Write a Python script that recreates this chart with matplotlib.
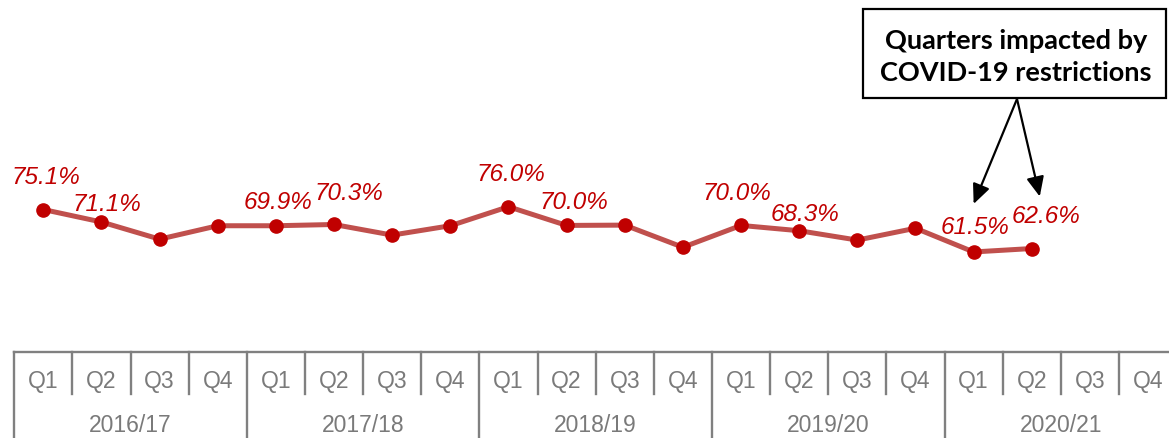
import matplotlib
matplotlib.use("Agg")
import matplotlib.pyplot as plt
from matplotlib.patches import Rectangle
from matplotlib.transforms import offset_copy

# ---- data -------------------------------------------------------------
years = ["2016/17", "2017/18", "2018/19", "2019/20", "2020/21"]
quarters = ["Q1", "Q2", "Q3", "Q4"]
rates = [75.1, 71.1, 65.6, 69.9, 69.9, 70.3, 66.9, 69.9, 76.0,
         70.0, 70.1, 63.0, 70.0, 68.3, 65.3, 69.1, 61.5, 62.6]
labelled = [0, 1, 4, 5, 8, 9, 12, 13, 16, 17]
covid_quarters = [16, 17]
note_text = "Quarters impacted by\nCOVID-19 restrictions"

# ---- layout / style ----------------------------------------------------
W, H, DPI = 1169, 438, 100
TABLE_TOP = 351.7          # pixel row of the category table's top rule
LINE_C = "#c0504d"
MARK_C = "#c00000"
GRID_C = "#808080"
TEXT_C = "#7a7a7a"

# pixel offsets of each value label from its point
label_offsets = {0: (3, 32), 1: (5, 17), 4: (2, 23), 5: (15, 31),
                 8: (2, 32), 9: (7, 23), 12: (-4, 32), 13: (6, 16),
                 16: (1, 24), 17: (14, 32)}
arrow_rise = {16: 48, 17: 52}
arrow_shift = {16: 0, 17: 8}

plt.rcParams["font.family"] = ["Liberation Sans", "DejaVu Sans"]

fig = plt.figure(figsize=(W / DPI, H / DPI), dpi=DPI)
fig.patch.set_facecolor("white")

top_frac = (H - TABLE_TOP) / H
ax = fig.add_axes([0, top_frac, 1, 1 - top_frac])
tax = fig.add_axes([0, 0, 1, top_frac])

xlim = (-0.745, 19.36)
ax.set_xlim(*xlim)
ax.set_ylim(29.53, 142.25)
tax.set_xlim(*xlim)
tax.set_ylim(0, 1)
ax.axis("off")
tax.axis("off")

# ---- series ------------------------------------------------------------
xs = list(range(len(rates)))
ax.plot(xs, rates, color=LINE_C, lw=3.6, solid_capstyle="round",
        solid_joinstyle="round", zorder=2)
ax.plot(xs, rates, ls="none", marker="o", ms=9.5, color=MARK_C,
        mec=MARK_C, zorder=3)

for i in labelled:
    dx, dy = label_offsets[i]
    ax.annotate(f"{rates[i]:.1f}%", xy=(i, rates[i]), xytext=(dx, dy),
                textcoords="offset pixels", ha="center", va="center",
                fontsize=17.5, style="italic", color=MARK_C)

# ---- note box with arrows ------------------------------------------------
bx0, bx1, by0, by1 = 863, 1166, 9.3, 98.3
fig.add_artist(Rectangle((bx0 / W, 1 - by1 / H), (bx1 - bx0) / W,
                         (by1 - by0) / H, transform=fig.transFigure,
                         fill=True, facecolor="white", edgecolor="black",
                         lw=1.6, zorder=5))
fig.text((bx0 + bx1) / 2 / W + 1.5 / W, 1 - 57 / H, note_text, ha="center",
         va="center", fontsize=19.5, fontweight="bold", family="Lato",
         linespacing=1.4, color="black", zorder=6)

for i in covid_quarters:
    tip = offset_copy(ax.transData, fig=fig, x=arrow_shift[i],
                      y=arrow_rise[i], units="dots")
    ax.annotate("", xy=(i, rates[i]), xycoords=tip,
                xytext=(1017, H - 99), textcoords="figure pixels",
                arrowprops=dict(arrowstyle="-|>,head_length=0.85,head_width=0.38",
                                mutation_scale=14, color="black", lw=1.6,
                                shrinkA=0, shrinkB=0),
                zorder=4)

# ---- category table ------------------------------------------------------
n = len(years) * len(quarters)
tax.plot([-0.5, n - 0.5], [1, 1], color=GRID_C, lw=1.7, clip_on=False)
for b in range(n + 1):
    edge = b - 0.5
    if b % 4 == 0:
        tax.plot([edge, edge], [0, 1], color=GRID_C, lw=1.7, clip_on=False)
    else:
        tax.plot([edge, edge], [0.51, 1], color=GRID_C, lw=1.7, clip_on=False)

for k, yr in enumerate(years):
    for j, q in enumerate(quarters):
        tax.text(4 * k + j, 0.652, q, ha="center", va="center",
                 fontsize=16.5, color=TEXT_C)
    tax.text(4 * k + 1.5, 0.15, yr, ha="center", va="center",
             fontsize=16.5, color=TEXT_C)

fig.savefig("out.png", dpi=DPI, facecolor="white")
